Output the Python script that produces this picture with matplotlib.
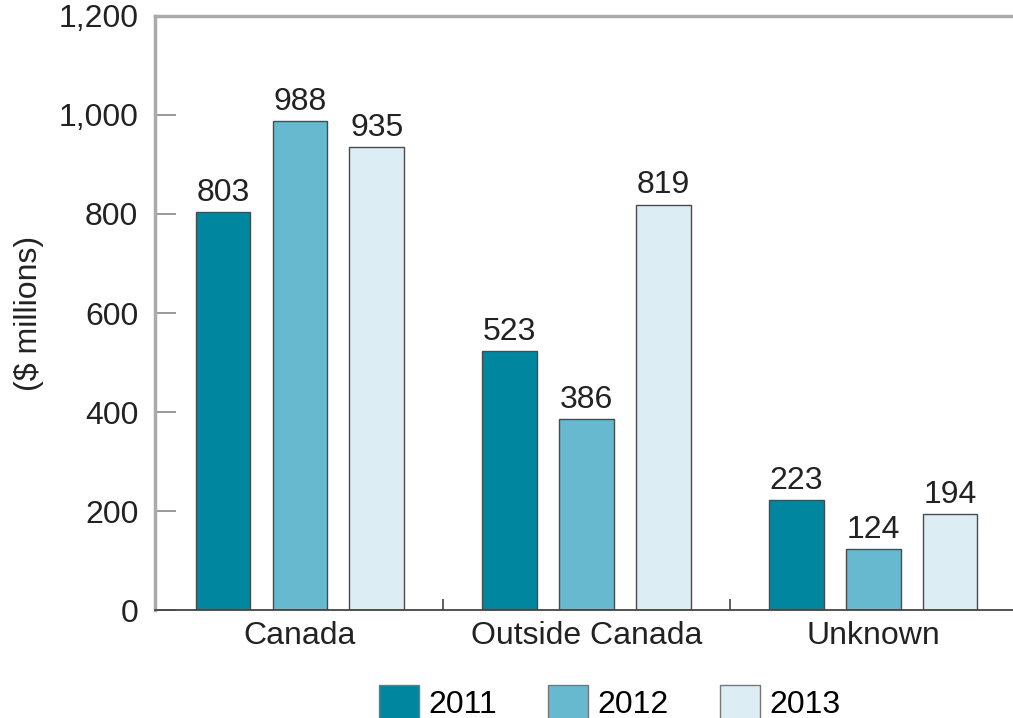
import matplotlib.pyplot as plt
import numpy as np

plt.rcParams['font.family'] = ['Liberation Sans', 'DejaVu Sans']

categories = ["Canada", "Outside Canada", "Unknown"]
years = ["2011", "2012", "2013"]
v2011 = [803, 523, 223]
v2012 = [988, 386, 124]
v2013 = [935, 819, 194]
colors = ["#00879f", "#67b9cf", "#dcedf4"]

fig = plt.figure(figsize=(10.13, 7.18), dpi=100)
ax = fig.add_axes([0.153, 0.150, 0.852, 0.828])

x = np.arange(len(categories))
w = 0.19
step = 0.268
for i, (vals, yr) in enumerate(zip([v2011, v2012, v2013], years)):
    bars = ax.bar(x + (i - 1) * step, vals, width=w, color=colors[i],
                  edgecolor="#4a4a4a", linewidth=1.0, label=yr)
    ax.bar_label(bars, labels=[str(v) for v in vals], padding=3,
                 fontsize=23, color="#222222")

ax.set_xlim(-0.505, 2.505)
ax.set_ylim(0, 1200)
ax.set_yticks(range(0, 1201, 200))
ax.set_yticklabels(["0", "200", "400", "600", "800", "1,000", "1,200"])
ax.tick_params(axis="y", direction="in", length=15, width=1.2, color="#888888",
               labelsize=23, pad=12, labelcolor="#222222")

# group separators as major ticks, category names as minor ticks
ax.set_xticks([0.5, 1.5])
ax.set_xticklabels(["", ""])
ax.tick_params(axis="x", which="major", direction="in", length=8, width=1.2,
               color="#444444")
ax.set_xticks(x, minor=True)
ax.set_xticklabels(categories, minor=True)
ax.tick_params(axis="x", which="minor", length=0, labelsize=23, pad=8,
               labelcolor="#222222")

ax.set_ylabel("($ millions)", fontsize=23, labelpad=10, color="#222222")

ax.spines["right"].set_visible(False)
ax.spines["left"].set_color("#aaaaaa")
ax.spines["left"].set_linewidth(2.5)
ax.spines["top"].set_color("#aaaaaa")
ax.spines["top"].set_linewidth(2.5)
ax.spines["bottom"].set_color("#444444")
ax.spines["bottom"].set_linewidth(1.3)

leg = ax.legend(loc="center", bbox_to_anchor=(0.527, -0.155), ncol=3,
                frameon=False, fontsize=23, handlelength=1.25,
                handleheight=1.25, handletextpad=0.3, columnspacing=1.6)
for h in leg.legend_handles:
    h.set_edgecolor("#777777")

fig.savefig("out.png", dpi=100)
